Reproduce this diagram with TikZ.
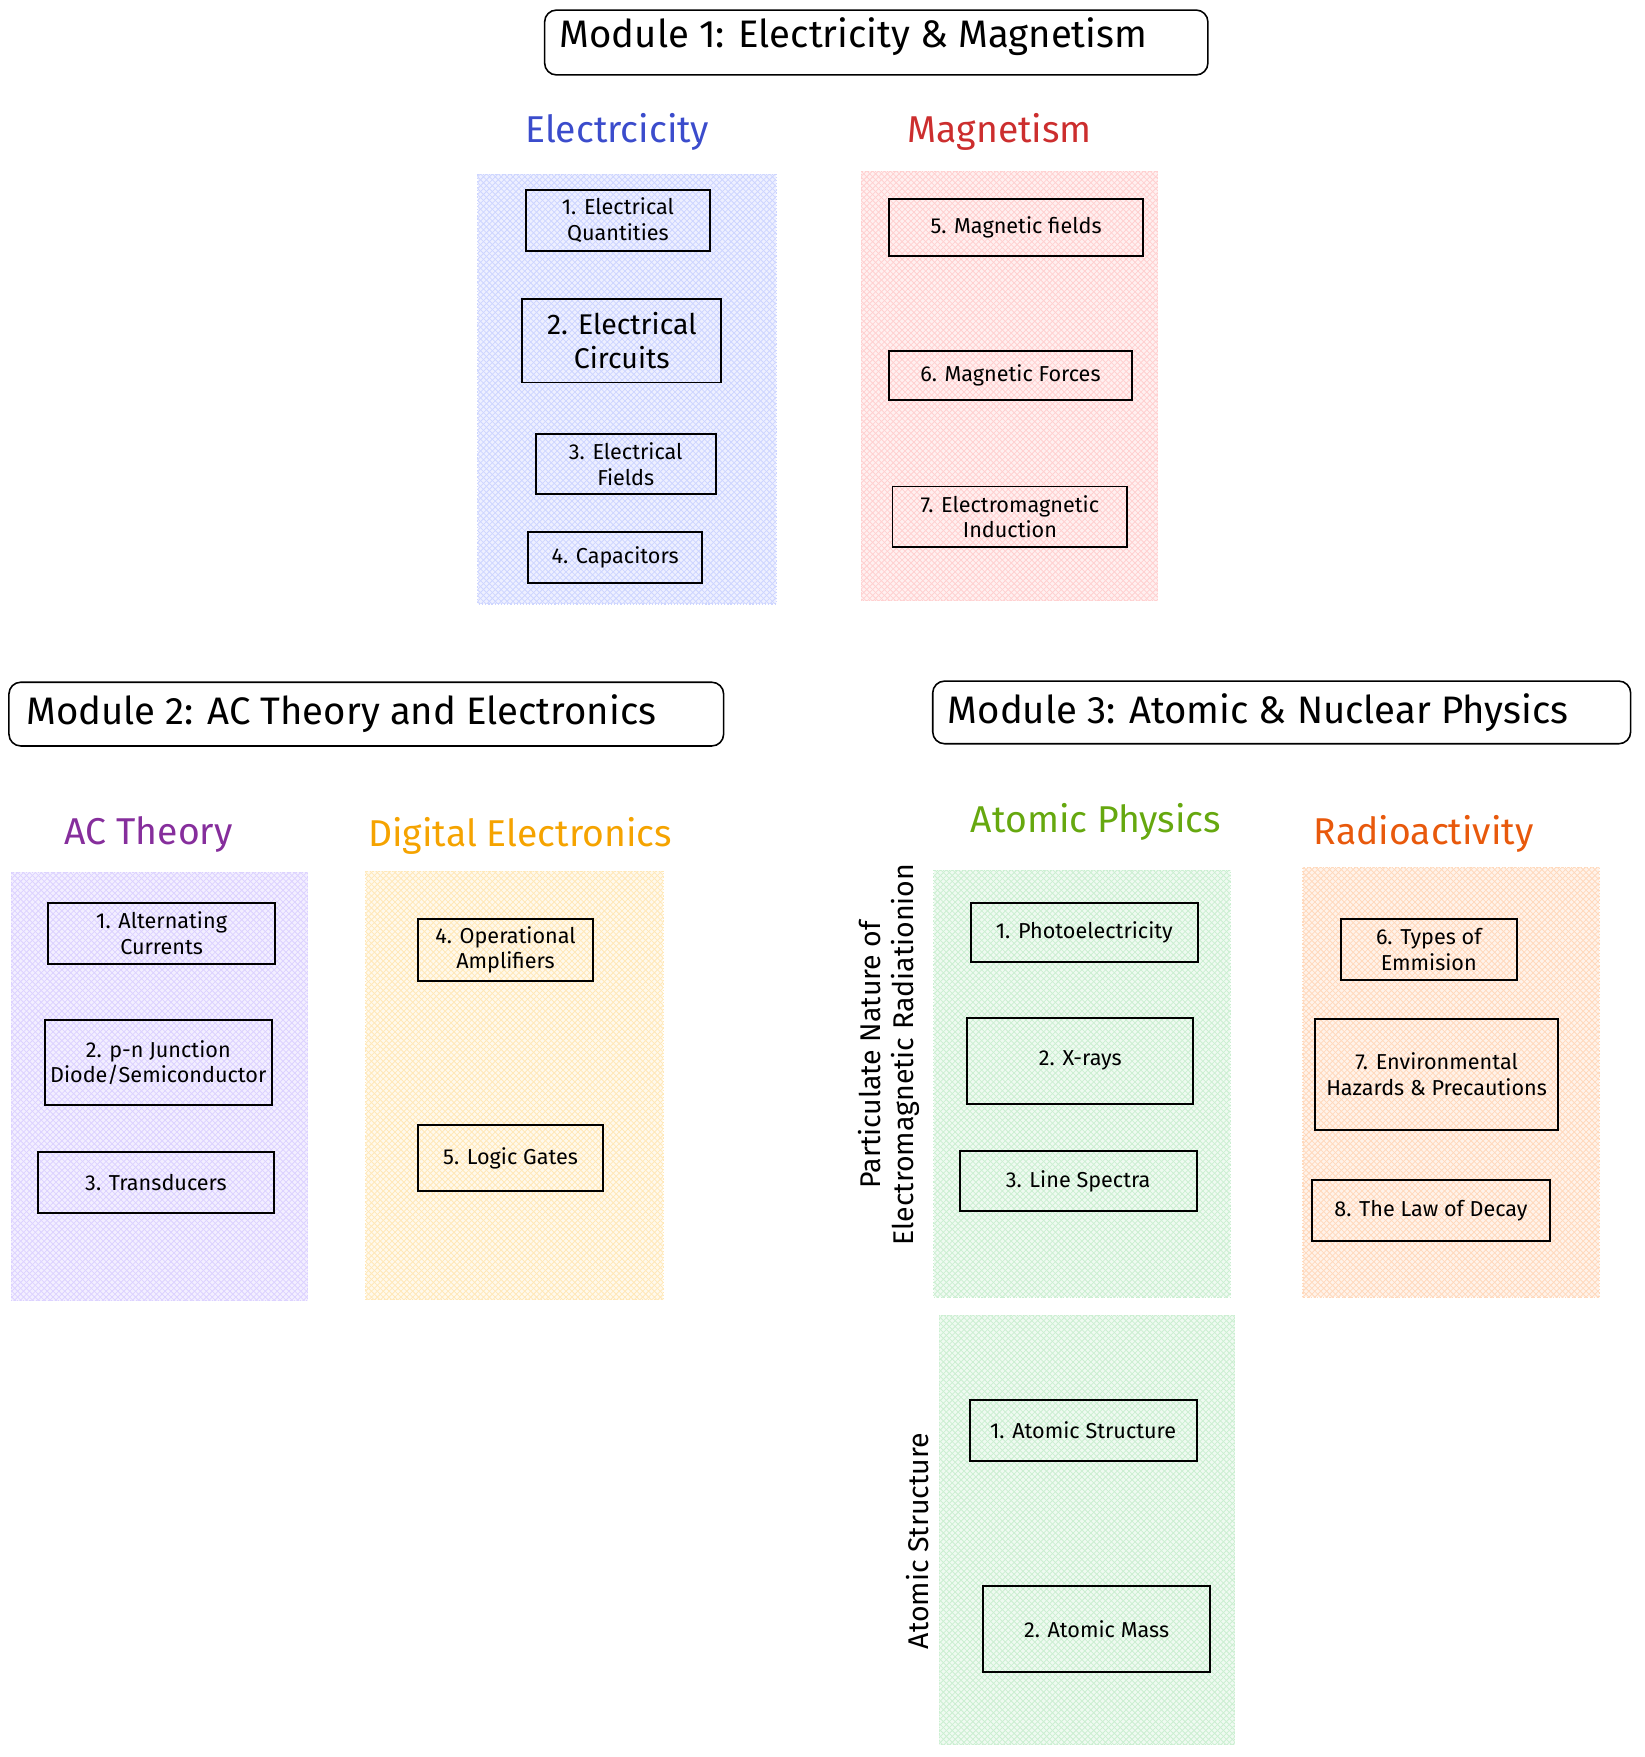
\documentclass[tikz,border=0pt]{standalone}
\usepackage{fontspec}
\setmainfont{Fira Sans}
\usepackage{tikz}
\usetikzlibrary{positioning,patterns}

% heading colours
\definecolor{elecblue}{HTML}{3B4CCC}
\definecolor{magnred}{HTML}{CC2E2E}
\definecolor{acpurple}{HTML}{862E9C}
\definecolor{digiorange}{HTML}{F5A300}
\definecolor{atomgreen}{HTML}{66A80F}
\definecolor{radiorange}{HTML}{E8590C}
% panel tints and hatching
\definecolor{elecbg}{HTML}{EEF0FF}\definecolor{elechatch}{HTML}{CDD5FF}
\definecolor{magnbg}{HTML}{FFF0F0}\definecolor{magnhatch}{HTML}{FFD0D0}
\definecolor{acbg}{HTML}{F3EFFF}\definecolor{achatch}{HTML}{DCD2FF}
\definecolor{digibg}{HTML}{FFF9EC}\definecolor{digihatch}{HTML}{FFE8B8}
\definecolor{atombg}{HTML}{EFFAF1}\definecolor{atomhatch}{HTML}{CBEFD1}
\definecolor{radibg}{HTML}{FFF3EA}\definecolor{radihatch}{HTML}{FFD9BC}

\begin{document}
\begin{tikzpicture}[x=0.2mm, y=-0.2mm,
    topic/.style={draw, line width=1pt, align=center, inner sep=2pt, font=\fontsize{11}{13}\selectfont},
    module/.style={draw, line width=0.8pt, rounded corners=6pt},
    modtext/.style={anchor=west, font=\fontsize{19.5}{23}\selectfont},
    heading/.style={font=\fontsize{19}{22}\selectfont},
    side/.style={rotate=90, align=center, font=\fontsize{14.5}{17}\selectfont}]

    \useasboundingbox (0,0) rectangle (1470,1571);

    % Coloured panels
    \foreach \bg/\hatch/\xa/\ya/\xb/\yb in {elecbg/elechatch/427/156/694/540, magnbg/magnhatch/770/153/1035/537, acbg/achatch/10/780/275/1163, digibg/digihatch/327/779/593/1162, atombg/atomhatch/835/778/1100/1160, radibg/radihatch/1165/776/1430/1160, atombg/atomhatch/840/1176/1104/1560} {
      \fill[\bg] (\xa,\ya) rectangle (\xb,\yb);
      \fill[pattern=north east lines, pattern color=\hatch] (\xa,\ya) rectangle (\xb,\yb);
      \fill[pattern=north west lines, pattern color=\hatch] (\xa,\ya) rectangle (\xb,\yb);
      \draw[\hatch, densely dotted, line width=0.6pt] (\xa,\ya) rectangle (\xb,\yb);
    }

    % Module titles
    \node[module, minimum width=118.6mm, minimum height=11.6mm] (mod1) at (783.5,38) {};
    \node[modtext, right=1.6mm of mod1.west, yshift=1mm] (mod1text) {Module 1: Electricity \& Magnetism};
    \node[module, minimum width=127.8mm, minimum height=11.4mm] (mod2) at (327.5,638.5) {};
    \node[modtext, right=2mm of mod2.west] (mod2text) {Module 2: AC Theory and Electronics};
    \node[module, minimum width=124.8mm, minimum height=11.2mm] (mod3) at (1146,637) {};
    \node[modtext, right=1.6mm of mod3.west] (mod3text) {Module 3: Atomic \& Nuclear Physics};

    % Section headings
    \node[heading, text=elecblue] (elec) at (552,118) {Electrcicity};
    \node[heading, text=magnred] (magn) at (894,118) {Magnetism};
    \node[heading, text=acpurple] (acth) at (133,746) {AC Theory};
    \node[heading, text=digiorange] (digi) at (465,747) {Digital Electronics};
    \node[heading, text=atomgreen] (atom) at (980,735) {Atomic Physics};
    \node[heading, text=radiorange] (radi) at (1273,746) {Radioactivity};

    % Side labels
    \node[side] (pnat) at (795,943) {Particulate Nature of\\Electromagnetic Radiationion};
    \node[side] (astr) at (820,1378) {Atomic Structure};

    % Topic boxes
    \node[topic, minimum width=35.6mm, minimum height=15mm, font=\fontsize{14.5}{17}\selectfont] (e2) at (556,304.5) {2. Electrical\\Circuits};
    \foreach \n/\x/\y/\w/\h/\t in {
      e1/552.5/197/33/10.8/{1. Electrical\\Quantities},
      e3/559.5/415/32.2/10.8/{3. Electrical\\Fields},
      e4/550/498.5/31.2/9/{4. Capacitors},
      m5/908.5/203.5/45.4/10.2/{5. Magnetic fields},
      m6/903.5/336/43.4/8.8/{6. Magnetic Forces},
      m7/903/462/42/10.8/{7. Electromagnetic\\Induction},
      a1/144.5/834.5/40.6/11/{1. Alternating\\Currents},
      a2/141.5/950/40.6/15.2/{2. p-n Junction\\Diode/Semiconductor},
      a3/139.5/1057.5/42.2/11/{3. Transducers},
      d4/452/849.5/31.2/11/{4. Operational\\Amplifiers},
      d5/456.5/1035.5/33/11.8/{5. Logic Gates},
      p1/969.5/833.5/40.6/10.6/{1. Photoelectricity},
      p2/966/948.5/40.4/15.4/{2. X-rays},
      p3/964/1056/42.4/10.8/{3. Line Spectra},
      r6/1277.5/849/31.4/10.8/{6. Types of\\Emmision},
      r7/1284.5/960.5/43.4/19.8/{7. Environmental\\Hazards \& Precautions},
      r8/1279.5/1082.5/42.6/11/{8. The Law of Decay},
      s1/968.5/1279/40.6/10.8/{1. Atomic Structure},
      s2/980.5/1456.5/40.6/15.4/{2. Atomic Mass}} {
      \node[topic, minimum width=\w mm, minimum height=\h mm] (\n) at (\x,\y) {\t};
    }

\end{tikzpicture}
\end{document}
